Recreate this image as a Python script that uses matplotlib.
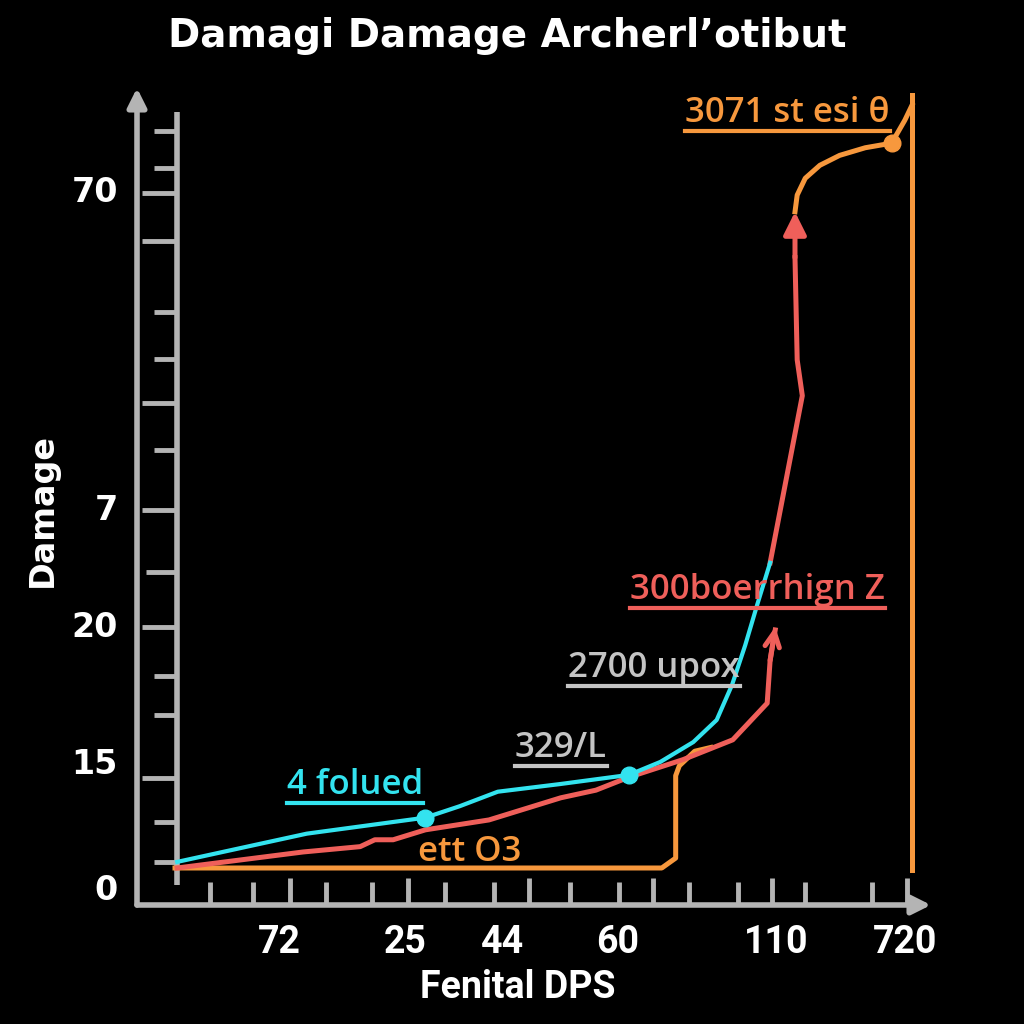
import matplotlib
matplotlib.use("Agg")
import matplotlib.pyplot as plt
from matplotlib.lines import Line2D

BG = "black"
GRAY = "#b4b4b4"
CYAN = "#33e3ef"
RED = "#ef5f5a"
ORANGE = "#f7983d"
LABEL_GRAY = "#c4c4c4"

# series values (position along the DPS axis, damage)
cyan_x = [0.3, 8.9, 18.0, 34.2, 38.9, 44.1, 52.6, 62.0, 66.3, 70.8, 74.0, 76.1, 77.9, 79.6, 81.3]
cyan_y = [0.8, 2.6, 4.5, 6.6, 8.1, 10.0, 11.0, 12.2, 13.9, 16.5, 19.4, 24.0, 29.2, 34.7, 40.0]
cyan_marks = [3, 7]

red_x = [0.3, 8.9, 17.5, 25.3, 27.3, 29.8, 34.2, 42.9, 52.7, 57.5, 62.0, 69.4, 76.2, 80.9, 81.3, 82.0]
red_y = [0.0, 1.05, 2.1, 2.8, 3.7, 3.7, 5.0, 6.3, 9.2, 10.2, 11.9, 14.2, 16.8, 21.6, 27.2, 31.2]

red_up_x = [81.3, 85.7, 85.0, 84.7, 84.7]
red_up_y = [40.0, 61.9, 66.6, 80.0, 86.0]

orange_x = [0.0, 66.5, 68.4, 68.4, 68.9, 71.0, 73.2]
orange_y = [0.0, 0.0, 1.3, 12.1, 13.4, 15.3, 15.8]

orange_top_x = [84.7, 85.0, 86.1, 88.1, 90.8, 94.3, 97.9, 99.7, 100.7]
orange_top_y = [86.0, 88.2, 90.4, 92.1, 93.4, 94.4, 95.0, 98.0, 100.0]
orange_mark = 6
orange_wall_x = 100.7
orange_wall_y = [-0.3, 101.3]

# axis decorations
ytick_pos = [96.6, 91.7, 88.5, 82.2, 72.9, 66.7, 60.9, 54.8, 46.9, 38.8, 31.6, 25.2, 20.1, 11.8, 6.0, 0.8]
ytick_kind = ["s", "s", "l", "l", "s", "s", "l", "s", "l", "m", "l", "s", "s", "l", "s", "s"]
ylabels = ["70", "7", "20", "15", "0"]
ylabel_pos = [88.5, 46.9, 31.5, 13.5, -2.9]

xtick_pos = [4.8, 10.7, 15.7, 20.6, 26.9, 31.8, 36.9, 43.6, 48.4, 54.0, 60.7, 65.3, 70.2, 76.9, 81.6, 86.1, 95.2, 100.0]
xtick_tall = [15.7, 31.8, 48.4, 65.3, 81.6, 100.0]
xlabels = ["72", "25", "44", "60", "110", "720"]
xlabel_pos = [14.3, 31.4, 44.8, 60.5, 82.1, 99.7]

# (text, x, y, colour, underline)
notes = [
    ("3071 st esi θ", 69.7, 99.0, ORANGE, True),
    ("300boerrhign Z", 62.2, 36.4, RED, True),
    ("2700 upox", 53.7, 26.2, LABEL_GRAY, True),
    ("329/L", 46.4, 15.7, LABEL_GRAY, True),
    ("4 folued", 15.3, 10.9, CYAN, True),
    ("ett O3", 33.2, 2.1, ORANGE, False),
]

fig = plt.figure(figsize=(10.24, 10.24), dpi=100, facecolor=BG)
ax = fig.add_axes([137 / 1024, 119 / 1024, 794 / 1024, 817 / 1024])
ax.set_facecolor(BG)
ax.set_xlim(-5.19, 103.28)
ax.set_ylim(-4.85, 102.23)
ax.axis("off")

# outer axes with arrows
arrow = dict(arrowstyle="-|>", color=GRAY, lw=4, mutation_scale=28, shrinkA=0, shrinkB=0)
ax.annotate("", xy=(0, 1), xytext=(0, 0), xycoords="axes fraction", arrowprops=arrow)
ax.annotate("", xy=(1, 0), xytext=(0, 0), xycoords="axes fraction", arrowprops=arrow)

# inner ruler
ax.plot([0.27, 0.27], [-2.2, 99.1], color=GRAY, lw=4, solid_capstyle="butt")
starts = {"l": -4.5, "m": -3.96, "s": -2.87}
for yv, k in zip(ytick_pos, ytick_kind):
    ax.plot([starts[k], 0.27], [yv, yv], color=GRAY, lw=3.5, solid_capstyle="butt")
for xv in xtick_pos:
    top = -1.3 if xv in xtick_tall else -1.8
    ax.plot([xv, xv], [-4.85, top], color=GRAY, lw=3.5, solid_capstyle="butt")

for lab, yv in zip(ylabels, ylabel_pos):
    ax.text(-7.8, yv, lab, color="white", fontsize=24, fontweight="bold",
            ha="right", va="center", family="DejaVu Sans")
for lab, xv in zip(xlabels, xlabel_pos):
    ax.text(xv, -9.7, lab, color="white", fontsize=27, fontweight="bold",
            ha="center", va="center", family="Roboto")

# series
ax.plot(orange_x, orange_y, color=ORANGE, lw=3.6, solid_joinstyle="round", zorder=3)
ax.plot([orange_wall_x, orange_wall_x], orange_wall_y, color=ORANGE, lw=3.6, zorder=3)
ax.plot(orange_top_x, orange_top_y, color=ORANGE, lw=3.6, solid_joinstyle="round", zorder=3)
ax.plot(orange_top_x[orange_mark], orange_top_y[orange_mark], "o", color=ORANGE, ms=12, zorder=4)

ax.plot(red_x, red_y, color=RED, lw=3.6, solid_joinstyle="round", zorder=4)
ax.annotate("", xy=(red_x[-1], red_y[-1] + 0.4), xytext=(red_x[-2], red_y[-2]),
            arrowprops=dict(arrowstyle="->", color=RED, lw=3.6, mutation_scale=26,
                            shrinkA=0, shrinkB=0), zorder=4)
ax.plot(red_up_x[:-1], red_up_y[:-1], color=RED, lw=3.6, solid_joinstyle="round", zorder=4)
ax.annotate("", xy=(red_up_x[-1], red_up_y[-1]), xytext=(red_up_x[-2], red_up_y[-2]),
            arrowprops=dict(arrowstyle="-|>", color=RED, lw=3.6, mutation_scale=34,
                            shrinkA=0, shrinkB=0), zorder=4)

ax.plot(cyan_x, cyan_y, color=CYAN, lw=3.0, solid_joinstyle="round", zorder=5)
ax.plot([cyan_x[i] for i in cyan_marks], [cyan_y[i] for i in cyan_marks], "o",
        color=CYAN, ms=12, zorder=6)

# notes with underline
texts = []
for txt, xv, yv, col, ul in notes:
    t = ax.text(xv, yv, txt, color=col, fontsize=25, fontweight="semibold",
                ha="left", va="center", family="Open Sans", zorder=7)
    texts.append((t, col, ul))

fig.text(507 / 1024, 1 - 36 / 1024, "Damagi Damage Archerl\u2019otibut", color="white",
         fontsize=28, fontweight="bold", ha="center", va="center", family="DejaVu Sans")
fig.text(42 / 1024, 1 - 510 / 1024, "Damage", color="white", fontsize=24,
         fontweight="bold", rotation=90, ha="center", va="center", family="DejaVu Sans")
fig.text(518 / 1024, 1 - 988 / 1024, "Fenital DPS", color="white", fontsize=27,
         fontweight="bold", ha="center", va="center", family="Roboto")

fig.canvas.draw()
W, H = fig.bbox.width, fig.bbox.height
for t, col, ul in texts:
    if not ul:
        continue
    bb = t.get_window_extent()
    yline = bb.y0 - 1
    fig.add_artist(Line2D([bb.x0 / W, bb.x1 / W], [yline / H, yline / H],
                          transform=fig.transFigure, color=col, lw=3))

fig.savefig("out.png", dpi=100, facecolor=BG)
